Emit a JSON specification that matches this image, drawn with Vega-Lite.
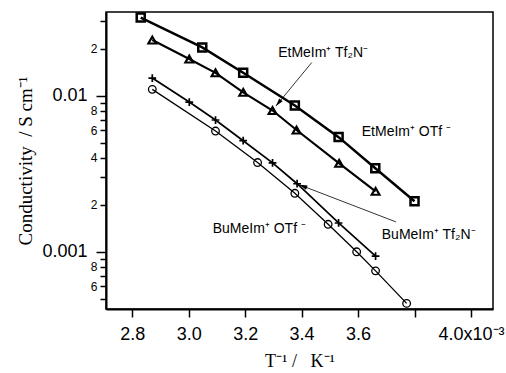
{
  "$schema": "https://vega.github.io/schema/vega-lite/v6.json",
  "width": 387,
  "height": 297,
  "autosize": "none",
  "padding": {"left": 106, "top": 12, "right": 13, "bottom": 64},
  "background": "white",
  "config": {
    "view": {"stroke": "black", "strokeWidth": 1.5},
    "axis": {"grid": false, "domainColor": "black", "domainWidth": 2, "tickColor": "black", "tickWidth": 1.5, "labelColor": "black", "titleColor": "black", "labelFont": "Liberation Sans", "titleFont": "Liberation Serif", "titleFontWeight": "normal"}
  },
  "datasets": {
    "pts": [
      {"series": "EtMeIm+ OTf-", "x": 2.830, "y": 0.0317},
      {"series": "EtMeIm+ OTf-", "x": 3.048, "y": 0.0204},
      {"series": "EtMeIm+ OTf-", "x": 3.193, "y": 0.01403},
      {"series": "EtMeIm+ OTf-", "x": 3.376, "y": 0.00866},
      {"series": "EtMeIm+ OTf-", "x": 3.531, "y": 0.00543},
      {"series": "EtMeIm+ OTf-", "x": 3.661, "y": 0.00343},
      {"series": "EtMeIm+ OTf-", "x": 3.800, "y": 0.00211},
      {"series": "EtMeIm+ Tf2N-", "x": 2.871, "y": 0.02275},
      {"series": "EtMeIm+ Tf2N-", "x": 3.002, "y": 0.01718},
      {"series": "EtMeIm+ Tf2N-", "x": 3.095, "y": 0.01403},
      {"series": "EtMeIm+ Tf2N-", "x": 3.193, "y": 0.01051},
      {"series": "EtMeIm+ Tf2N-", "x": 3.297, "y": 0.00804},
      {"series": "EtMeIm+ Tf2N-", "x": 3.382, "y": 0.00603},
      {"series": "EtMeIm+ Tf2N-", "x": 3.533, "y": 0.00369},
      {"series": "EtMeIm+ Tf2N-", "x": 3.662, "y": 0.00244},
      {"series": "BuMeIm+ Tf2N-", "x": 2.871, "y": 0.01298},
      {"series": "BuMeIm+ Tf2N-", "x": 3.002, "y": 0.00911},
      {"series": "BuMeIm+ Tf2N-", "x": 3.095, "y": 0.00699},
      {"series": "BuMeIm+ Tf2N-", "x": 3.193, "y": 0.00515},
      {"series": "BuMeIm+ Tf2N-", "x": 3.297, "y": 0.00371},
      {"series": "BuMeIm+ Tf2N-", "x": 3.384, "y": 0.00273},
      {"series": "BuMeIm+ Tf2N-", "x": 3.531, "y": 0.00153},
      {"series": "BuMeIm+ Tf2N-", "x": 3.662, "y": 0.000937},
      {"series": "BuMeIm+ OTf-", "x": 2.871, "y": 0.01099},
      {"series": "BuMeIm+ OTf-", "x": 3.095, "y": 0.00594},
      {"series": "BuMeIm+ OTf-", "x": 3.244, "y": 0.00373},
      {"series": "BuMeIm+ OTf-", "x": 3.376, "y": 0.00237},
      {"series": "BuMeIm+ OTf-", "x": 3.494, "y": 0.00150},
      {"series": "BuMeIm+ OTf-", "x": 3.595, "y": 0.00100},
      {"series": "BuMeIm+ OTf-", "x": 3.662, "y": 0.000755},
      {"series": "BuMeIm+ OTf-", "x": 3.772, "y": 0.000467}
    ],
    "arrows": [
      {"name": "et", "x": 3.436, "y": 0.01633, "tx": 3.309, "ty": 0.00859},
      {"name": "bu", "x": 3.734, "y": 0.001555, "tx": 3.392, "ty": 0.002688}
    ],
    "labels": [
      {"text": "EtMeIm⁺ Tf₂N⁻", "x": 3.317, "y": 0.01762},
      {"text": "EtMeIm⁺ OTf ⁻", "x": 3.613, "y": 0.005548},
      {"text": "BuMeIm⁺ OTf ⁻", "x": 3.085, "y": 0.001312},
      {"text": "BuMeIm⁺ Tf₂N⁻", "x": 3.684, "y": 0.0012}
    ]
  },
  "layer": [
    {
      "data": {"name": "pts"},
      "mark": {"type": "line", "color": "black"},
      "encoding": {
        "x": {"field": "x", "type": "quantitative", "title": "T⁻¹ /\u00a0\u00a0\u00a0K⁻¹",
          "scale": {"domain": [2.707, 4.078], "nice": false, "zero": false},
          "axis": {"values": [2.8, 3.0, 3.2, 3.4, 3.6, 3.8, 4.0], "labelExpr": "datum.value === 3.8 ? '' : datum.value === 4 ? '4.0x10⁻³' : format(datum.value, '.1f')", "labelFontSize": 18, "tickSize": 8, "labelPadding": 8, "titleFontSize": 18, "titlePadding": 9}},
        "y": {"field": "y", "type": "quantitative", "title": "Conductivity\u00a0\u00a0/ S cm⁻¹",
          "scale": {"type": "log", "domain": [0.00043, 0.0344], "nice": false},
          "axis": {"values": [0.03, 0.02, 0.01, 0.009, 0.008, 0.007, 0.006, 0.005, 0.004, 0.003, 0.002, 0.001, 0.0009, 0.0008, 0.0007, 0.0006, 0.0005],
            "labelExpr": "datum.value === 0.01 ? '0.01' : datum.value === 0.001 ? '0.001' : (datum.value === 0.02 || datum.value === 0.002) ? '2' : datum.value === 0.004 ? '4' : (datum.value === 0.006 || datum.value === 0.0006) ? '6' : (datum.value === 0.008 || datum.value === 0.0008) ? '8' : ''",
            "labelFontSize": {"condition": {"test": "datum.value === 0.01 || datum.value === 0.001", "value": 18}, "value": 12},
            "tickSize": {"condition": {"test": "datum.value === 0.01 || datum.value === 0.001", "value": 10}, "value": 6},
            "labelPadding": {"condition": {"test": "datum.value === 0.01 || datum.value === 0.001", "value": 9}, "value": 3},
            "titleFontSize": 19, "titlePadding": 6}},
        "detail": {"field": "series"},
        "strokeWidth": {"field": "series", "type": "nominal", "legend": null,
          "scale": {"domain": ["EtMeIm+ OTf-", "EtMeIm+ Tf2N-", "BuMeIm+ Tf2N-", "BuMeIm+ OTf-"], "range": [2.5, 1.3, 1.3, 1.3]}}
      }
    },
    {
      "data": {"name": "pts"},
      "mark": {"type": "point", "filled": false, "stroke": "black", "opacity": 1},
      "encoding": {
        "x": {"field": "x", "type": "quantitative", "title": "T⁻¹ /\u00a0\u00a0\u00a0K⁻¹"},
        "y": {"field": "y", "type": "quantitative", "title": "Conductivity\u00a0\u00a0/ S cm⁻¹"},
        "shape": {"field": "series", "type": "nominal", "legend": null,
          "scale": {"domain": ["EtMeIm+ OTf-", "EtMeIm+ Tf2N-", "BuMeIm+ Tf2N-", "BuMeIm+ OTf-"], "range": ["square", "triangle-up", "M-1,0H1M0,-1V1", "circle"]}},
        "size": {"field": "series", "type": "nominal", "legend": null,
          "scale": {"domain": ["EtMeIm+ OTf-", "EtMeIm+ Tf2N-", "BuMeIm+ Tf2N-", "BuMeIm+ OTf-"], "range": [64, 58, 110, 64]}},
        "strokeWidth": {"field": "series", "type": "nominal", "legend": null,
          "scale": {"domain": ["EtMeIm+ OTf-", "EtMeIm+ Tf2N-", "BuMeIm+ Tf2N-", "BuMeIm+ OTf-"], "range": [2.2, 1.2, 1.2, 1.2]}}
      }
    },
    {
      "data": {"name": "arrows"},
      "mark": {"type": "rule", "color": "black", "strokeWidth": 0.8},
      "encoding": {
        "x": {"field": "x", "type": "quantitative", "title": "T⁻¹ /\u00a0\u00a0\u00a0K⁻¹"},
        "y": {"field": "y", "type": "quantitative", "title": "Conductivity\u00a0\u00a0/ S cm⁻¹"},
        "x2": {"field": "tx"},
        "y2": {"field": "ty"}
      }
    },
    {
      "data": {"name": "arrows"},
      "mark": {"type": "point", "filled": true, "fill": "black", "stroke": null, "opacity": 1, "shape": "M0,0L0.55,2L-0.55,2Z", "size": 64},
      "encoding": {
        "x": {"field": "tx", "type": "quantitative", "title": "T⁻¹ /\u00a0\u00a0\u00a0K⁻¹"},
        "y": {"field": "ty", "type": "quantitative", "title": "Conductivity\u00a0\u00a0/ S cm⁻¹"},
        "angle": {"field": "name", "type": "nominal", "legend": null, "scale": {"domain": ["et", "bu"], "range": [219, 291]}}
      }
    },
    {
      "data": {"name": "labels"},
      "mark": {"type": "text", "align": "left", "baseline": "alphabetic", "font": "Liberation Sans", "fontSize": 14, "color": "black"},
      "encoding": {
        "x": {"field": "x", "type": "quantitative", "title": "T⁻¹ /\u00a0\u00a0\u00a0K⁻¹"},
        "y": {"field": "y", "type": "quantitative", "title": "Conductivity\u00a0\u00a0/ S cm⁻¹"},
        "text": {"field": "text"}
      }
    }
  ]
}
